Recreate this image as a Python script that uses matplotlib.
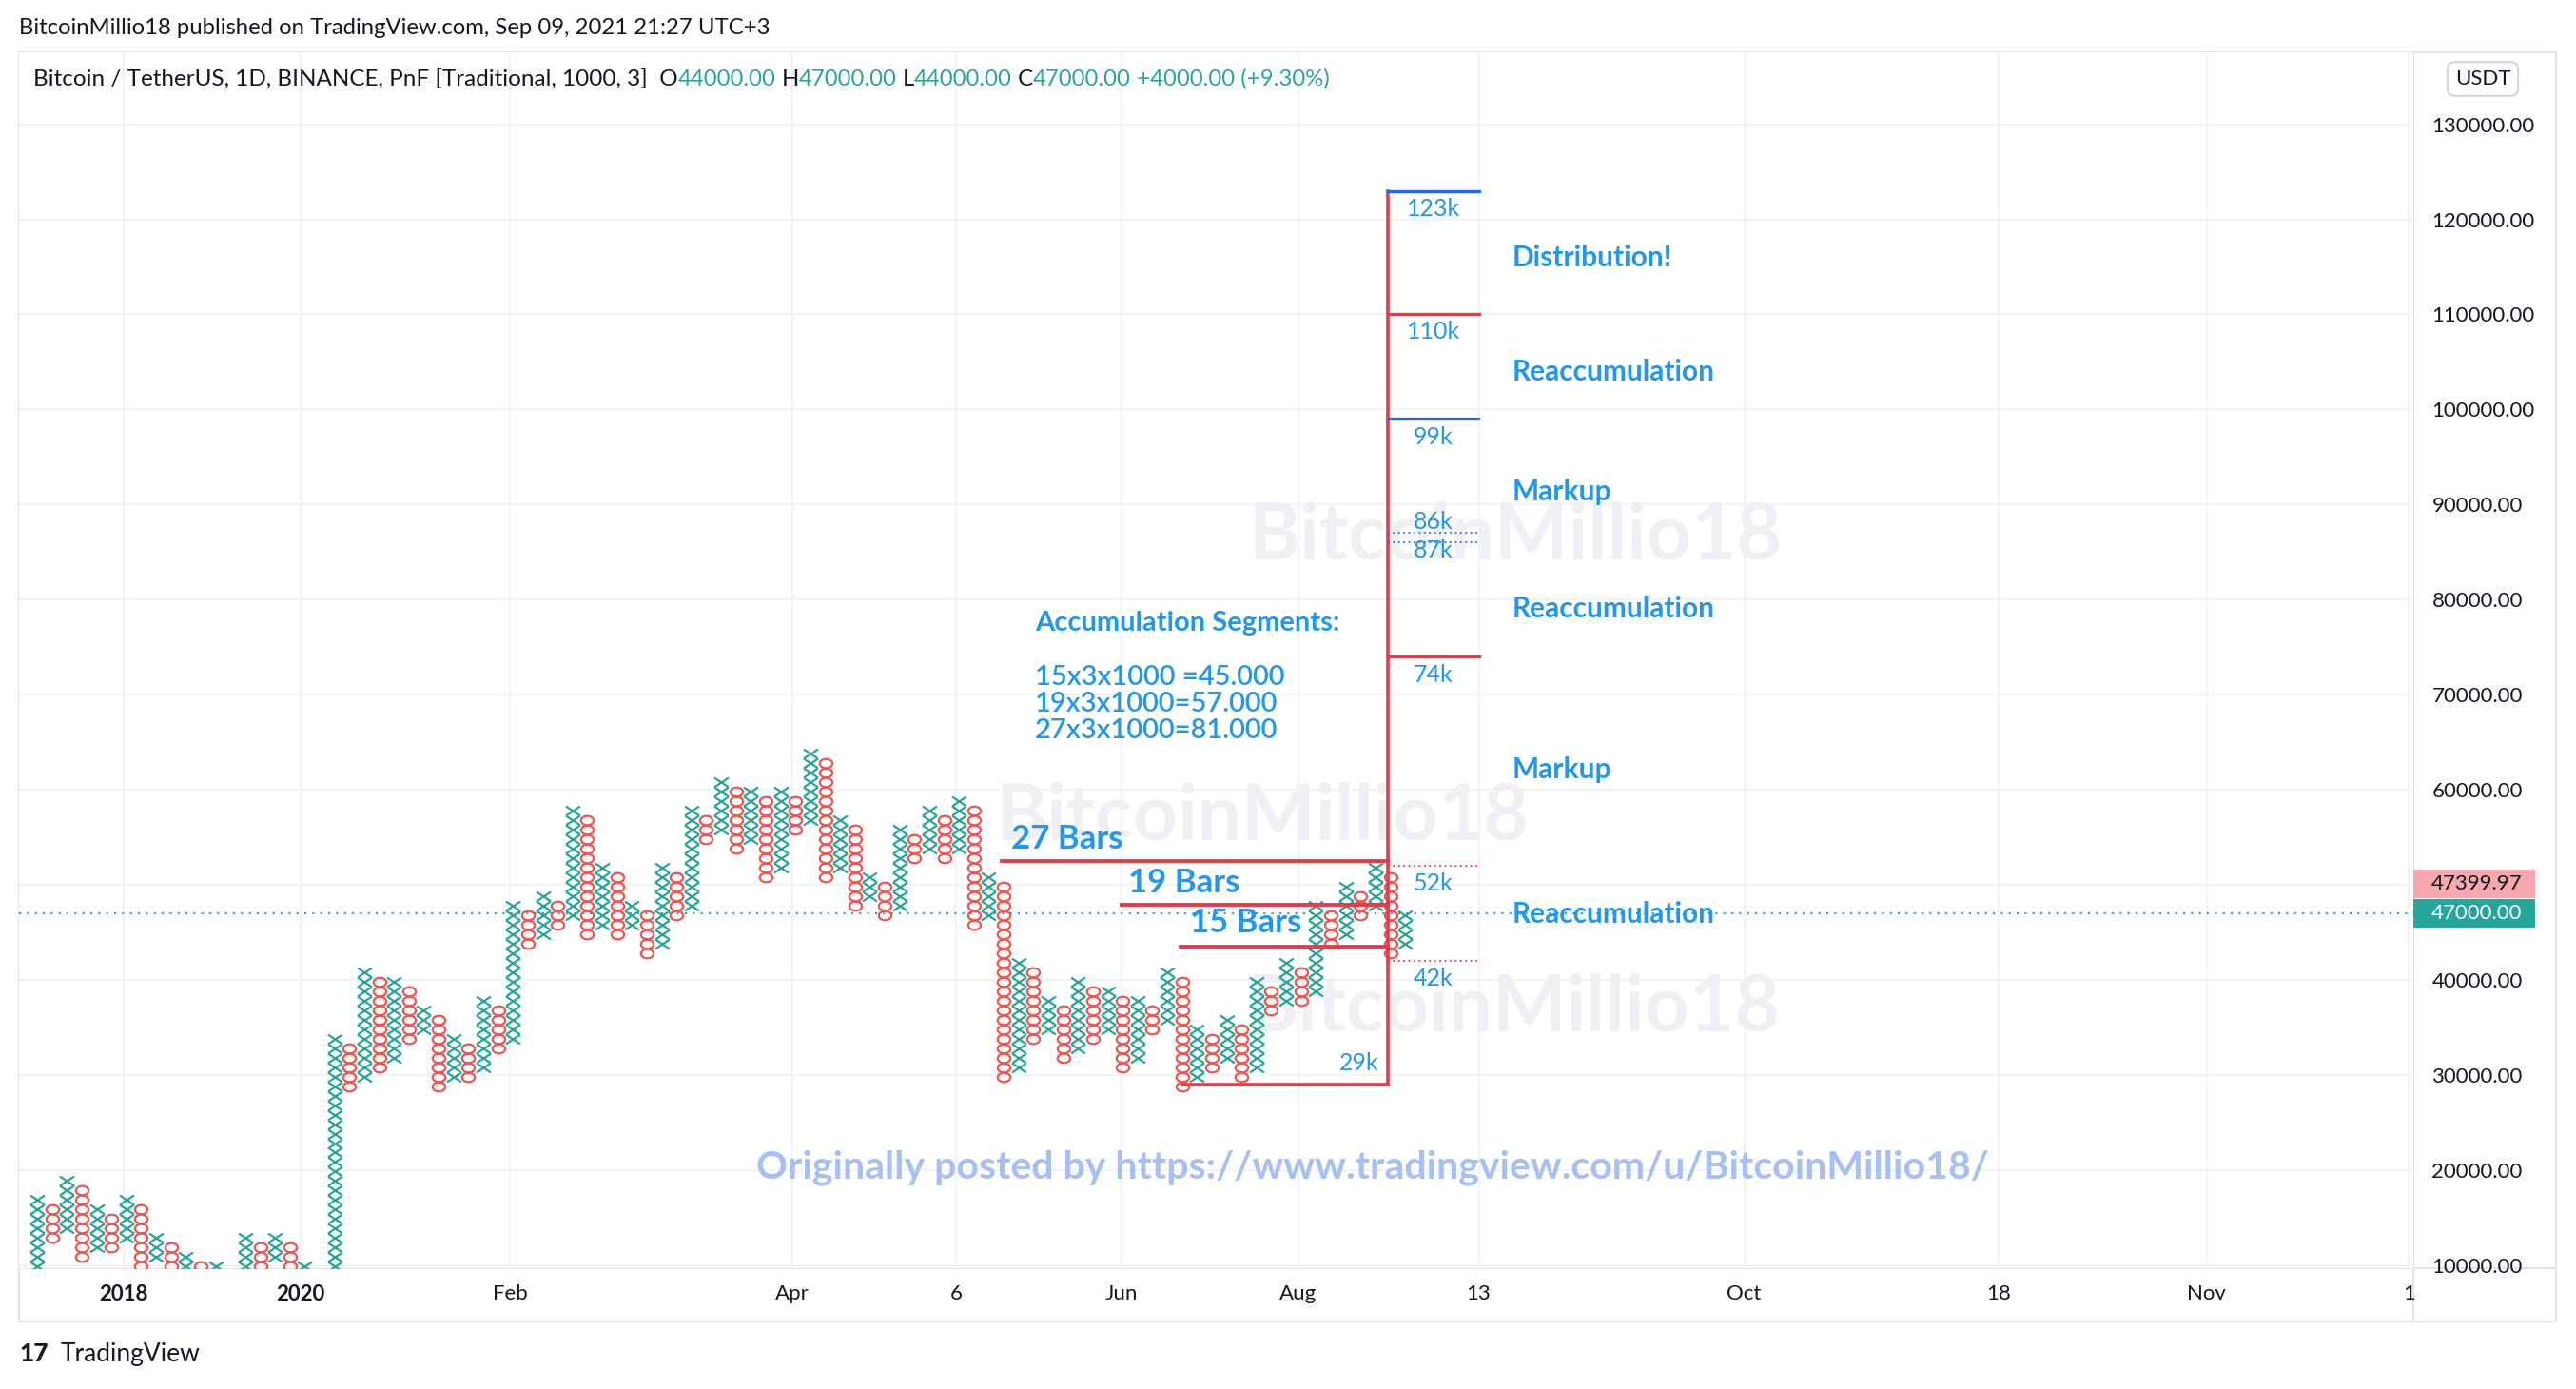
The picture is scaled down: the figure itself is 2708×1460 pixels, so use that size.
import matplotlib
matplotlib.use("Agg")
import matplotlib.pyplot as plt
import matplotlib.transforms as mtransforms
from matplotlib.path import Path
from matplotlib.patches import Rectangle

plt.rcParams['font.family'] = ['Lato', 'DejaVu Sans']

# Point & Figure columns (box = 1000, levels in thousands), alternating X / O
col_type = list("XOXOXOXOXOXOXOXOXOXOXOXOXOXOXOXOXOXOXOXOXOXOXOXOXOXOXOXOXOXOXOXOXOXOXOXOXOXOXOXOXOXOXOXOXOXOX")
col_low = [9, 13, 14, 11, 12, 12, 13, 10, 11, 7, 8, 6, 7, 4, 5, 10, 11, 7, 8, 4,
           5, 29, 30, 31, 32, 34, 35, 29, 30, 30, 31, 33, 34, 44, 45, 46, 47, 45, 46, 45,
           46, 43, 44, 47, 48, 55, 56, 54, 55, 51, 52, 56, 57, 51, 52, 48, 49, 47, 48, 53,
           54, 53, 54, 46, 47, 30, 31, 34, 35, 32, 33, 34, 35, 31, 32, 35, 36, 29, 30, 31,
           32, 30, 31, 37, 38, 38, 39, 44, 45, 47, 48, 43, 44]
col_high = [17, 16, 19, 18, 16, 15, 17, 16, 13, 12, 11, 10, 10, 9, 13, 12, 13, 12, 10, 9,
            34, 33, 41, 40, 40, 39, 37, 36, 34, 33, 38, 37, 48, 47, 49, 48, 58, 57, 52, 51,
            48, 47, 52, 51, 58, 57, 61, 60, 60, 59, 60, 59, 64, 63, 57, 56, 51, 50, 56, 55,
            58, 57, 59, 58, 51, 50, 42, 41, 38, 37, 40, 39, 39, 38, 38, 37, 41, 40, 35, 34,
            36, 35, 40, 39, 42, 41, 48, 47, 50, 49, 52, 51, 47]
box_size = 1000

# time axis labels (column index positions)
time_ticks = [5.8, 17.7, 31.8, 50.8, 61.8, 72.9, 84.8, 96.95, 114.8, 131.9, 145.9, 159.5]
time_labels = ["2018", "2020", "Feb", "Apr", "6", "Jun", "Aug", "13", "Oct", "18", "Nov", "1"]
price_ticks = [10000, 20000, 30000, 40000, 50000, 60000, 70000, 80000, 90000, 100000,
               110000, 120000, 130000]

# drawing annotations
target_prices = [123000, 110000, 99000, 74000]
target_colors = ["#2962ff", "#f23645", "#2962ff", "#f23645"]
target_labels = ["123k", "110k", "99k", "74k"]
target_label_y = [121100, 108200, 97100, 72100]
blue_dotted = [87000, 86000]
blue_dotted_labels = ["86k", "87k"]
blue_dotted_label_y = [88200, 85200]
red_dotted = [52000, 42000]
red_dotted_labels = ["52k", "42k"]
red_dotted_label_y = [50200, 40100]
bars_levels = [52500, 47900, 43500]
bars_start = [64.85, 72.9, 76.9]
bars_labels = ["27 Bars", "19 Bars", "15 Bars"]
bars_label_x = [65.5, 73.4, 77.5]
bars_label_y = [54800, 50200, 46000]
base_price = 29000
base_start = 77.0
ruler_x = 90.85
ruler_end = 96.95
phase_labels = ["Distribution!", "Reaccumulation", "Markup", "Reaccumulation", "Markup", "Reaccumulation"]
phase_y = [116000, 103900, 91300, 79000, 62100, 46900]
segments_text = ["15x3x1000 =45.000", "19x3x1000=57.000", "27x3x1000=81.000"]
segments_y = [71800, 69000, 66200]
watermark_x = [99.4, 82.4, 99.3]
watermark_y = [86600, 57100, 37000]
last_price = 47000
live_price = 47399.97

TEAL = "#26a69a"
RED = "#ef5350"
LINE_RED = "#f23645"
BLUE_TXT = "#2196f3"
TXT = "#131722"

fig = plt.figure(figsize=(27.08, 14.60), dpi=100)
W, H = 2708, 1460

# outer frame (chart + price axis + time axis)
bg = fig.add_axes([20 / W, 1 - 1389 / H, 2667 / W, 1334 / H])
bg.set_xticks([])
bg.set_yticks([])
for s in bg.spines.values():
    s.set_color("#e0e3eb")
    s.set_linewidth(1.5)
bg.axhline(56 / 1334, color="#e0e3eb", lw=1.5)
bg.axvline(2517 / 2667, color="#e0e3eb", lw=1.5)

ax = fig.add_axes([20 / W, 1 - 1333 / H, 2517 / W, 1278 / H])
ax.set_facecolor("white")
for s in ax.spines.values():
    s.set_visible(False)
ax.set_xlim(-1.22, 159.8)
ax.set_ylim(9670, 137570)

ax.set_xticks(time_ticks)
ax.set_xticklabels(time_labels, fontsize=16, color=TXT)
for lab in ax.get_xticklabels()[:2]:
    lab.set_fontweight("bold")
ax.set_yticks(price_ticks)
ax.set_yticklabels([f"{v:.2f}" for v in price_ticks], fontsize=16, color=TXT)
ax.yaxis.tick_right()
ax.tick_params(axis="y", length=0, pad=14)
ax.tick_params(axis="x", length=0, pad=12)
ax.grid(True, color="#f0f3fa", lw=1.5, zorder=0)
ax.set_axisbelow(True)

# watermarks
for wx, wy in zip(watermark_x, watermark_y):
    ax.text(wx, wy, "BitcoinMillio18", fontsize=59, fontweight="bold", color="#eef0f4",
            ha="center", va="center", zorder=1)

# P&F marks
x_marker = Path([(-1, -0.66), (1, 0.66), (-1, 0.66), (1, -0.66)],
                [Path.MOVETO, Path.LINETO, Path.MOVETO, Path.LINETO])
circ = Path.unit_circle()
o_marker = Path(circ.vertices * [1, 0.72], circ.codes)

xs_x, ys_x, xs_o, ys_o = [], [], [], []
for i, (t, lo, hi) in enumerate(zip(col_type, col_low, col_high)):
    for lv in range(lo, hi + 1):
        y = lv * box_size - 0.17 * box_size
        if t == "X":
            xs_x.append(i)
            ys_x.append(y)
        else:
            xs_o.append(i)
            ys_o.append(y)
ax.plot(xs_x, ys_x, ls="none", marker=x_marker, ms=10.8, mew=1.6, mec=TEAL, mfc="none", zorder=3)
ax.plot(xs_o, ys_o, ls="none", marker=o_marker, ms=9.6, mew=1.6, mec=RED, mfc="none", zorder=3)

# last price line
ax.axhline(last_price, color=TEAL, lw=1.5, ls=(0, (1, 3)), zorder=2)

# ruler and target levels
ax.plot([ruler_x, ruler_x], [base_price, target_prices[0]], color=LINE_RED, lw=2.6, zorder=4)
ax.plot([base_start, ruler_x], [base_price, base_price], color=LINE_RED, lw=2.6, zorder=4)
for p, c, lab, ly in zip(target_prices, target_colors, target_labels, target_label_y):
    ax.plot([ruler_x, ruler_end], [p, p], color=c, lw=2.4 if p != 99000 else 1.6, zorder=4)
    ax.text((ruler_x + ruler_end) / 2, ly, lab, fontsize=18, color=BLUE_TXT, ha="center", va="center", zorder=5)
for p, lab, ly in zip(blue_dotted, blue_dotted_labels, blue_dotted_label_y):
    ax.plot([ruler_x, ruler_end], [p, p], color="#2962ff", lw=1.3, ls=(0, (1, 2)), zorder=4)
    ax.text((ruler_x + ruler_end) / 2, ly, lab, fontsize=18, color=BLUE_TXT, ha="center", va="center", zorder=5)
for p, lab, ly in zip(red_dotted, red_dotted_labels, red_dotted_label_y):
    ax.plot([ruler_x, ruler_end], [p, p], color=LINE_RED, lw=1.3, ls=(0, (1, 2)), zorder=4)
    ax.text((ruler_x + ruler_end) / 2, ly, lab, fontsize=18, color=BLUE_TXT, ha="center", va="center", zorder=5)
ax.text(ruler_x - 0.6, base_price + 2200, "29k", fontsize=18, color=BLUE_TXT, ha="right", va="center", zorder=5)

# accumulation segment lines
for lvl, x0, lab, lx, ly in zip(bars_levels, bars_start, bars_labels, bars_label_x, bars_label_y):
    ax.plot([x0, ruler_x], [lvl, lvl], color=LINE_RED, lw=2.8, zorder=4)
    ax.text(lx, ly, lab, fontsize=25, fontweight="bold", color=BLUE_TXT, ha="left", va="center", zorder=5)

for lab, py in zip(phase_labels, phase_y):
    ax.text(99.2, py, lab, fontsize=21.5, fontweight="bold", color=BLUE_TXT, ha="left", va="center", zorder=5)

ax.text(67.1, 77500, "Accumulation Segments:", fontsize=21, fontweight="bold", color=BLUE_TXT,
        ha="left", va="center", zorder=5)
for t, sy in zip(segments_text, segments_y):
    ax.text(67.1, sy, t, fontsize=21, fontweight="semibold", color=BLUE_TXT, ha="left", va="center", zorder=5)

ax.text(89.8, 20300, "Originally posted by https://www.tradingview.com/u/BitcoinMillio18/",
        fontsize=29.5, fontweight="bold", color="#a6bff6", ha="center", va="center", zorder=5)

# price scale labels
blend = mtransforms.blended_transform_factory(ax.transAxes, ax.transData)
ax.add_patch(Rectangle((1.0, 48600), 0.0508, 3000, transform=blend, facecolor="#f7a8ae",
                       edgecolor="none", clip_on=False, zorder=6))
ax.add_patch(Rectangle((1.0, 45500), 0.0508, 3000, transform=blend, facecolor=TEAL,
                       edgecolor="none", clip_on=False, zorder=6))
ax.text(1.0076, 50100, f"{live_price:.2f}", transform=blend, fontsize=16, color=TXT,
        ha="left", va="center", zorder=7, clip_on=False)
ax.text(1.0076, last_price, f"{last_price:.2f}", transform=blend, fontsize=16, color="white",
        ha="left", va="center", zorder=7, clip_on=False)

# header / legend / footer
fig.text(20 / W, 1 - 30 / H, "BitcoinMillio18 published on TradingView.com, Sep 09, 2021 21:27 UTC+3",
         fontsize=17.2, color=TXT, ha="left", va="center")
fig.text(2610 / W, 1 - 83 / H, "USDT", fontsize=16, color=TXT, ha="center", va="center",
         bbox=dict(boxstyle="round,pad=0.35", facecolor="white", edgecolor="#d1d4dc", lw=1.5))

pieces = [("Bitcoin / TetherUS, 1D, BINANCE, PnF [Traditional, 1000, 3]  O", TXT),
          ("44000.00", TEAL), (" H", TXT), ("47000.00", TEAL), (" L", TXT), ("44000.00", TEAL),
          (" C", TXT), ("47000.00", TEAL), (" +4000.00 (+9.30%)", TEAL)]
anchor = fig.text(35 / W, 1 - 83 / H, pieces[0][0], fontsize=17.5, color=pieces[0][1],
                  ha="left", va="center")
for txt, col in pieces[1:]:
    anchor = ax.annotate(txt, xy=(1, 0.5), xycoords=anchor, ha="left", va="center",
                         fontsize=17.2, color=col, annotation_clip=False)

fig.text(20 / W, 1 - 1423 / H, "17", fontsize=19, fontweight="black", color=TXT, ha="left", va="center")
fig.text(64 / W, 1 - 1423 / H, "TradingView", fontsize=19, color=TXT, ha="left", va="center")

fig.savefig("out.png", dpi=100)
